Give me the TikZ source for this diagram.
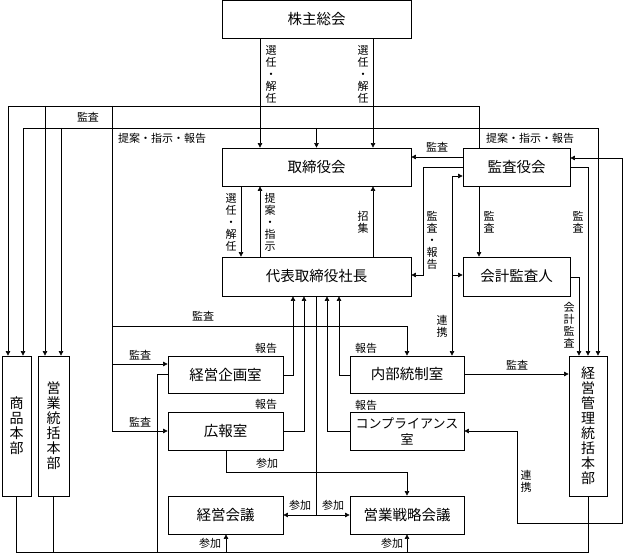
\documentclass[tikz,border=0pt]{standalone}
\usepackage{fontspec}
\setmainfont{Noto Sans CJK JP}
\usetikzlibrary{arrows.meta, positioning, calc}

\tikzset{
  box/.style={draw, line width=0.8pt, inner sep=1pt, align=center, font=\fontsize{14.5}{15.5}\selectfont},
  lab/.style={inner sep=0pt, align=center, font=\fontsize{11}{12}\selectfont},
  arr/.style={-{Triangle[length=4.5pt, width=4.5pt]}},
  arrs/.style={{Triangle[length=4.5pt, width=4.5pt]}-{Triangle[length=4.5pt, width=4.5pt]}},
}

\begin{document}
\begin{tikzpicture}[x=1pt, y=-1pt, line width=0.6pt]
	\useasboundingbox (0,0) rectangle (625,553);
	% boxes
	\node[box, minimum width=189pt, minimum height=38pt] at (316.5,19) (kabu) {株主総会};
	\node[box, minimum width=189pt, minimum height=38pt] at (316.5,167) (tori) {取締役会};
	\node[box, minimum width=107pt, minimum height=38pt] at (516.5,167) (kansa) {監査役会};
	\node[box, minimum width=189pt, minimum height=39pt] at (316.5,276.5) (daihyo) {代表取締役社長};
	\node[box, minimum width=107pt, minimum height=39pt] at (516.5,276.5) (kaikei) {会計監査人};
	\node[box, minimum width=115pt, minimum height=37pt] at (225.5,374.5) (kikaku) {経営企画室};
	\node[box, minimum width=115pt, minimum height=38pt] at (225.5,431) (koho) {広報室};
	\node[box, minimum width=114pt, minimum height=37pt] at (407,374.5) (naibu) {内部統制室};
	\node[box, minimum width=114pt, minimum height=38pt, font=\fontsize{13}{16}\selectfont] at (407,431) (comp) {コンプライアンス\\室};
	\node[box, minimum width=115pt, minimum height=38pt] at (225.5,515) (kaigi) {経営会議};
	\node[box, minimum width=114pt, minimum height=38pt] at (407,515) (senryaku) {営業戦略会議};
	\node[box, minimum width=29pt, minimum height=140pt, font=\fontsize{14}{15}\selectfont] at (16.5,426) (shohin) {商\\品\\本\\部};
	\node[box, minimum width=31pt, minimum height=140pt, font=\fontsize{14}{15}\selectfont] at (53.5,426) (eigyo) {営\\業\\統\\括\\本\\部};
	\node[box, minimum width=38pt, minimum height=140pt, font=\fontsize{14}{15}\selectfont] at (588,426) (kanri) {経\\営\\管\\理\\統\\括\\本\\部};

	% 株主総会
	\draw[arr] (kabu.south -| 260,0) -- (tori.north -| 260,0);
	\draw[arr] (kabu.south -| 373,0) -- (tori.north -| 373,0);
	\node[lab] at (271,74) (l1) {選\\任\\・\\解\\任};
	\node[lab] at (363,74) (l2) {選\\任\\・\\解\\任};

	% 監査役会 -> 本部
	\draw[arr] (kansa.north -| 479,0) |- (8,106) -- (shohin.north -| 8,0);
	\draw[arr] (45,106) -- (eigyo.north -| 45,0);
	\draw (112,106) -- (112,431);
	\draw[arr] (112,326) -| (naibu.north -| 407,0);
	\draw[arr] (112,364) -- (kikaku.west |- 0,364);
	\draw[arr] (112,431) -- (koho.west);
	\node[lab] at (88,117) (l3) {監査};
	\node[lab] at (203,316) (l4) {監査};
	\node[lab] at (140,355) (l5) {監査};
	\node[lab] at (140,422) (l6) {監査};

	% 提案・指示・報告
	\draw[arrs] (shohin.north -| 23,0) |- (598,128) -- ([xshift=10pt]kanri.north);
	\draw[arr] (61,128) -- (eigyo.north -| 61,0);
	\draw[arr] (316.5,128) -- (tori.north);
	\node[lab] at (162,138) (l7) {提案・指示・報告};
	\node[lab] at (530,138) (l8) {提案・指示・報告};

	% 取締役会 <-> 代表取締役社長
	\draw[arr] (tori.south -| 241,0) -- (daihyo.north -| 241,0);
	\draw[arr] (daihyo.north -| 260,0) -- (tori.south -| 260,0);
	\draw[arr] (daihyo.north -| 373,0) -- (tori.south -| 373,0);
	\node[lab] at (231,222) (l9) {選\\任\\・\\解\\任};
	\node[lab] at (270,222) (l10) {提\\案\\・\\指\\示};
	\node[lab] at (363,222) (l11) {招\\集};

	% 監査役会
	\draw[arr] (kansa.west |- 0,157) -- (tori.east |- 0,157);
	\node[lab] at (437,147) (l12) {監査};
	\draw[arr] (kansa.west |- 0,167) -| (423,275) -- (daihyo.east |- 0,275);
	\node[lab] at (432,240) (l13) {監\\査\\・\\報\\告};
	\draw[arr] (452,275) |- (kansa.west |- 0,176);
	\draw[arr] (452,275) -- (kaikei.west |- 0,275);
	\draw[arr] (452,176) -- (naibu.north -| 452,0);
	\node[lab] at (442,326) (l14) {連\\携};
	\draw[arr] (kansa.south -| 479,0) -- (kaikei.north -| 479,0);
	\node[lab] at (489,222) (l15) {監\\査};
	\draw[arr] (kansa.east) -| (kanri.north);
	\node[lab] at (578,222) (l16) {監\\査};
	\draw[arr] (kaikei.east |- 0,277) -| ([xshift=-9pt]kanri.north);
	\node[lab] at (569,325) (l17) {会\\計\\監\\査};

	% 連携
	\draw[arrs] (comp.east) -| (517,523) -| (622,158) -- (kansa.east |- 0,158);
	\node[lab] at (526,481) (l18) {連\\携};

	% 内部統制室 -> 経営管理統括本部
	\draw[arr] (naibu.east |- 0,374) -- (kanri.west |- 0,374);
	\node[lab] at (517,365) (l19) {監査};

	% 報告
	\draw[arr] (kikaku.east |- 0,375) -| (daihyo.south -| 293,0);
	\draw[arr] (koho.east) -| (daihyo.south -| 304,0);
	\draw[arr] (naibu.west |- 0,375) -| (daihyo.south -| 339,0);
	\draw[arr] (comp.west) -| (daihyo.south -| 327,0);
	\node[lab] at (266,348) (l20) {報告};
	\node[lab] at (266,404) (l21) {報告};
	\node[lab] at (366,348) (l22) {報告};
	\node[lab] at (366,405) (l23) {報告};

	% 参加
	\draw (daihyo.south) -- (316.5,515);
	\draw[arr] (316.5,515) -- (kaigi.east);
	\draw[arr] (316.5,515) -- (senryaku.west);
	\node[lab] at (300,505) (l24) {参加};
	\node[lab] at (333,505) (l25) {参加};
	\draw[arr] (koho.south -| 226,0) |- (407,472) -- (senryaku.north);
	\node[lab] at (267,463) (l26) {参加};
	\draw (shohin.south) -- (16.5,552) -- (kanri.south |- 0,552) -- (kanri.south);
	\draw (eigyo.south) -- (eigyo.south |- 0,552);
	\draw (kikaku.west) -| (157,552);
	\draw[arr] (226,552) -- (kaigi.south -| 226,0);
	\draw[arr] (407,552) -- (senryaku.south);
	\node[lab] at (210,543) (l27) {参加};
	\node[lab] at (392,543) (l28) {参加};
\end{tikzpicture}
\end{document}
